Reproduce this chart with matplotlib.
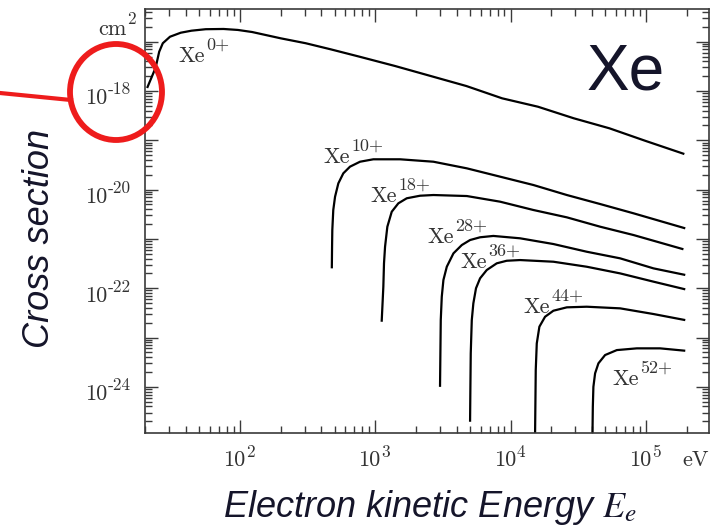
import numpy as np
import matplotlib
matplotlib.use("Agg")
import matplotlib.pyplot as plt
from matplotlib.ticker import FixedLocator, LogLocator, NullFormatter
from matplotlib.patches import Ellipse
from matplotlib.lines import Line2D
from matplotlib.transforms import IdentityTransform

plt.rcParams['mathtext.fontset'] = 'cm'
plt.rcParams['axes.unicode_minus'] = False

# ---------------- data ----------------
xe0_E = [20.6, 23.8, 25.3, 26.9, 30.4, 36.5, 43.8, 55.8, 75.6, 96.4, 123, 200, 306, 468, 762,
         1400, 2570, 4710, 8650, 15900, 29200, 53700, 98400, 192000]
xe0_s = [1.15e-18, 2.97e-18, 6.26e-18, 9.3e-18, 1.26e-17, 1.52e-17, 1.67e-17, 1.79e-17, 1.81e-17,
         1.73e-17, 1.57e-17, 1.17e-17, 9.3e-18, 7.0e-18, 4.97e-18, 3.21e-18, 2.01e-18, 1.26e-18,
         7.1e-19, 4.8e-19, 2.8e-19, 1.75e-19, 9.8e-20, 5.27e-20]

xe10_E = [477, 479, 481, 489, 504, 533, 580, 650, 771, 967, 1523, 2685, 4745, 8360, 14720,
          26000, 45830, 80800, 195000]
xe10_s = [2.53e-22, 6.95e-22, 1.51e-21, 3.86e-21, 7.18e-21, 1.34e-20, 2.14e-20, 2.92e-20,
          3.68e-20, 4.12e-20, 4.12e-20, 3.68e-20, 2.7e-20, 1.83e-20, 1.24e-20, 7.77e-21,
          5.1e-21, 3.31e-21, 1.64e-21]

xe18_E = [1114, 1146, 1159, 1180, 1227, 1322, 1479, 1706, 2140, 2685, 4745, 8360, 14720,
          26000, 45830, 80800, 189000]
xe18_s = [2.09e-23, 1.07e-22, 3.2e-22, 6.95e-22, 1.77e-21, 3.56e-21, 5.27e-21, 6.67e-21,
          7.52e-21, 7.77e-21, 7.41e-21, 5.69e-21, 3.86e-21, 2.74e-21, 1.77e-21, 1.2e-21, 6.17e-22]

xe28_E = [3006, 3025, 3044, 3097, 3185, 3373, 3777, 4355, 5012, 5943, 7447, 11730, 20680,
          36480, 64400, 113500, 195000]
xe28_s = [1.0e-24, 4.8e-24, 2.26e-23, 6.73e-23, 1.47e-22, 2.73e-22, 5.1e-22, 7.52e-22, 9.5e-22,
          1.08e-21, 1.15e-21, 1.03e-21, 7.88e-22, 5.5e-22, 4.04e-22, 2.53e-22, 1.86e-22]

xe36_E = [5012, 5040, 5070, 5160, 5300, 5545, 5943, 6655, 7890, 9350, 11730, 20680, 36480,
          64400, 113500, 195000]
xe36_s = [1.96e-25, 1.0e-24, 4.8e-24, 2.26e-23, 4.94e-23, 1.0e-22, 1.59e-22, 2.34e-22, 3.2e-22,
          3.61e-22, 3.73e-22, 3.45e-22, 2.73e-22, 2.0e-22, 1.36e-22, 9.5e-23]

xe44_E = [15140, 15230, 15320, 15590, 16300, 17950, 20680, 26000, 36480, 64400, 113500, 195000]
xe44_s = [1.0e-25, 4.62e-25, 2.19e-24, 7.6e-24, 1.66e-23, 2.64e-23, 3.5e-23, 4.1e-23, 4.22e-23,
          3.91e-23, 3.0e-23, 2.26e-23]

xe52_E = [40200, 40460, 40850, 42050, 44500, 49850, 60850, 85500, 127000, 195000]
xe52_s = [1.0e-25, 3.94e-25, 1.0e-24, 1.88e-24, 3.0e-24, 4.42e-24, 5.57e-24, 6.04e-24,
          6.04e-24, 5.4e-24]

series_E = [xe0_E, xe10_E, xe18_E, xe28_E, xe36_E, xe44_E, xe52_E]
series_s = [xe0_s, xe10_s, xe18_s, xe28_s, xe36_s, xe44_s, xe52_s]
series_charge = ['0+', '10+', '18+', '28+', '36+', '44+', '52+']

x_major_exp = [2, 3, 4, 5]
y_major_exp = list(range(-25, -16))
y_label_exp = [-24, -22, -20, -18]

# ---------------- figure ----------------
W, H = 721, 527
fig = plt.figure(figsize=(W / 100, H / 100), dpi=100)

def px(x, y):
    return x / W, 1 - y / H

SERIF = 'cmr10'
txt_col = '#333333'
base_fs = 16
sup_fs = 12.5

ax_l, ax_r, ax_t, ax_b = 145, 709, 9, 433
ax = fig.add_axes([ax_l / W, 1 - ax_b / H, (ax_r - ax_l) / W, (ax_b - ax_t) / H])
ax.set_xscale('log')
ax.set_yscale('log')
ax.set_xlim(19.87, 2.92e5)
ax.set_ylim(1.16e-25, 4.6e-17)

for E, s in zip(series_E, series_s):
    ax.plot(E, s, color='black', lw=1.6, solid_capstyle='butt')

tick_col = '#3a3a3a'
ax.xaxis.set_major_locator(FixedLocator([10.0 ** e for e in x_major_exp]))
ax.xaxis.set_minor_locator(LogLocator(base=10, subs=np.arange(2, 10), numticks=40))
ax.yaxis.set_major_locator(FixedLocator([10.0 ** e for e in y_major_exp]))
ax.yaxis.set_minor_locator(LogLocator(base=10, subs=np.arange(2, 10), numticks=40))
for a in (ax.xaxis, ax.yaxis):
    a.set_major_formatter(NullFormatter())
    a.set_minor_formatter(NullFormatter())

ax.tick_params(which='both', direction='in', top=True, right=True, color=tick_col, width=1.0)
ax.tick_params(which='major', length=9.5)
ax.tick_params(which='minor', length=5)
for sp in ax.spines.values():
    sp.set_color('#3a3a3a')
    sp.set_linewidth(1.2)

# tick labels drawn as "10" + raised exponent (like the original)
for e in y_label_exp:
    ax.annotate('10', xy=(0, 10.0 ** e), xycoords=('axes fraction', 'data'),
                xytext=(-60, -13.5), textcoords='offset pixels', ha='left', va='baseline',
                fontsize=base_fs, family=SERIF, color=txt_col, annotation_clip=False)
    ax.annotate('-%d' % (-e), xy=(0, 10.0 ** e), xycoords=('axes fraction', 'data'),
                xytext=(-37, -3.5), textcoords='offset pixels', ha='left', va='baseline',
                fontsize=sup_fs, family=SERIF, color=txt_col, annotation_clip=False)
for e in x_major_exp:
    ax.annotate('10', xy=(10.0 ** e, 0), xycoords=('data', 'axes fraction'),
                xytext=(-17, -33), textcoords='offset pixels', ha='left', va='baseline',
                fontsize=base_fs, family=SERIF, color=txt_col, annotation_clip=False)
    ax.annotate('%d' % e, xy=(10.0 ** e, 0), xycoords=('data', 'axes fraction'),
                xytext=(6, -24), textcoords='offset pixels', ha='left', va='baseline',
                fontsize=sup_fs, family=SERIF, color=txt_col, annotation_clip=False)

# curve labels (left, baseline pixel positions of "Xe")
label_pos = [(178, 62), (323, 163), (370, 202), (427, 243), (460, 268), (523, 313), (612, 385)]
for ch, (x, y) in zip(series_charge, label_pos):
    fig.text(*px(x, y), 'Xe', fontsize=base_fs, family=SERIF, color=txt_col,
             ha='left', va='baseline')
    fig.text(*px(x + 28, y - 12), ch, fontsize=sup_fs + 0.5, family=SERIF, color=txt_col,
             ha='left', va='baseline')

# unit labels
fig.text(*px(98, 35), 'cm', fontsize=base_fs, family=SERIF, color=txt_col, ha='left', va='baseline')
fig.text(*px(127, 24), '2', fontsize=sup_fs, family=SERIF, color=txt_col, ha='left', va='baseline')
fig.text(*px(682, 466), 'eV', fontsize=base_fs, family=SERIF, color=txt_col, ha='left', va='baseline')

# big element label
fig.text(*px(587, 90), 'Xe', fontsize=46, color='#15152a', family='Liberation Sans',
         ha='left', va='baseline')

# axis titles
fig.text(*px(40, 238), 'Cross section', fontsize=26, style='italic', family='Liberation Sans',
         color='#15152a', rotation=90, ha='center', va='center')
fig.text(*px(430, 517), r'Electron kinetic Energy $E_e$', fontsize=26, style='italic',
         family='Liberation Sans', color='#15152a', ha='center', va='baseline',
         math_fontfamily='stix')

# red highlight circle and pointer line (display pixels)
circ = Ellipse((116, H - 92), 92, 96, fill=False, edgecolor='#ee1c1c', lw=4.2,
               transform=IdentityTransform(), zorder=20)
fig.add_artist(circ)
line = Line2D([0, 71], [H - 93, H - 100], color='#ee1c1c', lw=3.0,
              transform=IdentityTransform(), zorder=20)
fig.add_artist(line)

fig.savefig('out.png', dpi=100)
